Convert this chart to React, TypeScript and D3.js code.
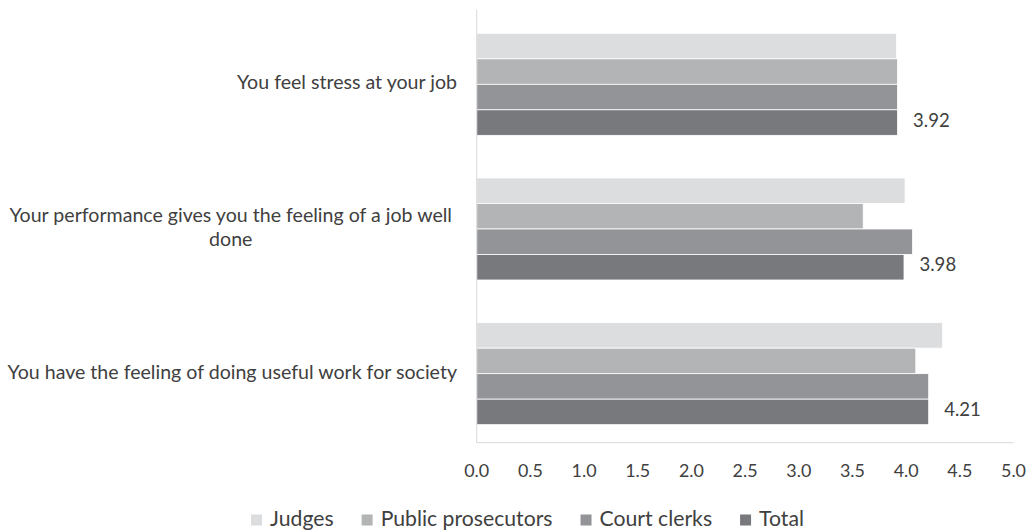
import React, { useEffect, useRef } from "react";
import * as d3 from "d3";

const categories = [
  "You feel stress at your job",
  "Your performance gives you the feeling of a job well done",
  "You have the feeling of doing useful work for society",
];
const seriesNames = ["Judges", "Public prosecutors", "Court clerks", "Total"];
const judges = [3.91, 3.99, 4.34];
const publicProsecutors = [3.92, 3.6, 4.09];
const courtClerks = [3.92, 4.06, 4.21];
const total = [3.92, 3.98, 4.21];
const totalLabels = ["3.92", "3.98", "4.21"];
const xTicks = [0, 0.5, 1, 1.5, 2, 2.5, 3, 3.5, 4, 4.5, 5];

const COLORS = ["#dcdddf", "#b3b4b6", "#939497", "#78797c"];
const FONT = "Lato, 'Open Sans', sans-serif";
const TEXT = "#404040";

export default function App() {
  const ref = useRef<SVGSVGElement>(null);

  useEffect(() => {
    const svg = d3.select(ref.current as SVGSVGElement);
    svg.selectAll("*").remove();

    const measure = (txt: string, size: number) => {
      const t = svg
        .append("text")
        .attr("font-family", FONT)
        .attr("font-size", size)
        .text(txt);
      const w = (t.node() as SVGTextElement).getComputedTextLength();
      t.remove();
      return w;
    };
    const fit = (sample: string, target: number) => 20 * (target / measure(sample, 20));

    const catSize = fit("You feel stress at your job", 220);
    const tickSize = fit("0.0", 25);
    const valSize = fit("3.92", 36.7);
    const legSize = fit("Public prosecutors", 172);

    const seriesValues = [judges, publicProsecutors, courtClerks, total];

    const x = d3.scaleLinear().domain([0, 5]).range([476.7, 1013.5]);
    const y = d3
      .scaleBand<string>()
      .domain(categories)
      .range([12, 446])
      .paddingInner(0.295)
      .paddingOuter(0.1475);
    const ys = d3.scaleBand<string>().domain(seriesNames).range([0, y.bandwidth()]);

    svg
      .append("line")
      .attr("x1", x(0))
      .attr("x2", x(5))
      .attr("y1", 442.7)
      .attr("y2", 442.7)
      .attr("stroke", "#d9d9d9")
      .attr("stroke-width", 1);

    const groups = svg
      .append("g")
      .selectAll("g")
      .data(categories)
      .join("g")
      .attr("transform", (d) => `translate(0,${y(d)})`);

    groups.each(function (cat, ci) {
      const g = d3.select(this);
      seriesNames.forEach((s, si) => {
        g.append("rect")
          .attr("x", x(0))
          .attr("y", ys(s) as number)
          .attr("width", x(seriesValues[si][ci]) - x(0))
          .attr("height", ys.bandwidth())
          .attr("fill", COLORS[si])
          .attr("stroke", "#ffffff")
          .attr("stroke-width", 0.8);
      });
      g.append("text")
        .attr("x", x(total[ci]) + 15.5)
        .attr("y", (ys("Total") as number) + ys.bandwidth() / 2 + 4)
        .attr("font-family", FONT)
        .attr("font-size", valSize)
        .attr("fill", TEXT)
        .text(totalLabels[ci]);
    });

    svg
      .append("line")
      .attr("x1", x(0))
      .attr("x2", x(0))
      .attr("y1", 10)
      .attr("y2", 443)
      .attr("stroke", "#d9d9d9")
      .attr("stroke-width", 1);

    svg
      .append("g")
      .selectAll("text")
      .data(xTicks)
      .join("text")
      .attr("x", (d) => x(d))
      .attr("y", 477)
      .attr("text-anchor", "middle")
      .attr("font-family", FONT)
      .attr("font-size", tickSize)
      .attr("fill", TEXT)
      .text((d) => d3.format(".1f")(d));

    const maxW = 470;
    const lineH = catSize * 1.2;
    categories.forEach((cat) => {
      const words = cat.split(" ");
      const lines: string[] = [];
      let cur = "";
      words.forEach((w) => {
        const test = cur ? cur + " " + w : w;
        if (measure(test, catSize) > maxW && cur) {
          lines.push(cur);
          cur = w;
        } else cur = test;
      });
      if (cur) lines.push(cur);
      const cy = (y(cat) as number) + y.bandwidth() / 2;
      const t = svg
        .append("text")
        .attr("font-family", FONT)
        .attr("font-size", catSize)
        .attr("fill", TEXT);
      if (lines.length === 1) {
        t.attr("x", 457).attr("y", cy + 5).attr("text-anchor", "end").text(lines[0]);
      } else {
        const widest = d3.max(lines, (l) => measure(l, catSize)) as number;
        const cx = 452 - widest / 2;
        t.attr("text-anchor", "middle");
        lines.forEach((l, i) => {
          t.append("tspan")
            .attr("x", cx)
            .attr("y", cy + 5 + (i - (lines.length - 1) / 2) * lineH)
            .text(l);
        });
      }
    });

    const sq = 11;
    const gapIn = 8;
    const gapOut = 28;
    const widths = seriesNames.map((s) => measure(s, legSize));
    const totalW =
      d3.sum(widths) + seriesNames.length * (sq + gapIn) + (seriesNames.length - 1) * gapOut;
    let lx = 804 - totalW;
    const leg = svg.append("g");
    seriesNames.forEach((s, i) => {
      leg
        .append("rect")
        .attr("x", lx)
        .attr("y", 514.5)
        .attr("width", sq)
        .attr("height", sq)
        .attr("fill", COLORS[i]);
      leg
        .append("text")
        .attr("x", lx + sq + gapIn)
        .attr("y", 526)
        .attr("font-family", FONT)
        .attr("font-size", legSize)
        .attr("fill", TEXT)
        .text(s);
      lx += sq + gapIn + widths[i] + gapOut;
    });
  }, []);

  return (
    <div style={{ position: "fixed", left: 0, top: 0 }}>
      <svg ref={ref} width={1034} height={532} style={{ display: "block", background: "#fff" }} />
    </div>
  );
}
